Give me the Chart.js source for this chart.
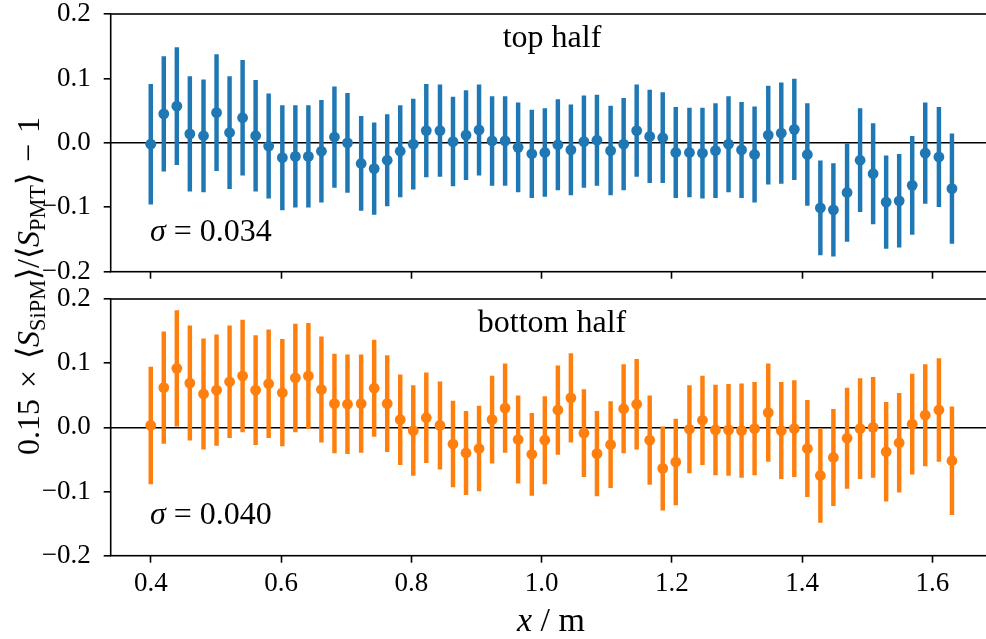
<!DOCTYPE html>
<html>
<head>
<meta charset="utf-8">
<script src="https://cdn.jsdelivr.net/npm/chart.js@4.4.0/dist/chart.umd.min.js"></script>
<style>
  html, body { margin: 0; padding: 0; background: #fff; }
  #fig { position: relative; width: 986px; height: 639px; overflow: hidden; font-family: "Liberation Serif", serif; color: #000; }
  canvas { position: absolute; left: 0; }
  #cTop { top: 0; }
  #cBottom { top: 285px; }
  .note { position: absolute; white-space: nowrap; line-height: 1; font-size: 32px; }
  .center { transform: translateX(-50%); }
  #xlab { font-size: 34px; }
  #ylab { position: absolute; left: 28px; top: 286px; font-size: 32px; line-height: 1; white-space: nowrap;
          word-spacing: 3px; transform: translate(-50%, -50%) rotate(-90deg); }
  #ylab sub { font-size: 0.7em; vertical-align: -0.25em; line-height: 0; }
</style>
</head>
<body>
<div id="fig">
  <canvas id="cTop" width="1000" height="285"></canvas>
  <canvas id="cBottom" width="1000" height="354"></canvas>
  <div class="note center" style="left:552px; top:20px;">top half</div>
  <div class="note" style="left:150px; top:214px;"><i>σ</i> = 0.034</div>
  <div class="note center" style="left:552px; top:305px;">bottom half</div>
  <div class="note" style="left:150px; top:497px;"><i>σ</i> = 0.040</div>
  <div id="xlab" class="note center" style="left:551px; top:603px;"><i>x</i> / m</div>
  <div id="ylab">0.15 × ⟨<i>S</i><sub>SiPM</sub>⟩/⟨<i>S</i><sub>PMT</sub>⟩ − 1</div>
</div>
<script>
// positions along the bar (m)
var xs = [0.400,0.420,0.440,0.460,0.481,0.501,0.521,0.541,0.561,0.581,
          0.602,0.622,0.642,0.662,0.682,0.702,0.723,0.743,0.763,0.783,
          0.803,0.823,0.844,0.864,0.884,0.904,0.924,0.944,0.964,0.985,
          1.005,1.025,1.045,1.065,1.085,1.106,1.126,1.146,1.166,1.186,
          1.206,1.227,1.247,1.267,1.287,1.307,1.327,1.348,1.368,1.388,
          1.408,1.428,1.448,1.469,1.489,1.509,1.529,1.549,1.569,1.589,
          1.610,1.630];

var topVals = [-0.002,0.045,0.057,0.014,0.011,0.047,0.016,0.039,0.011,-0.005,
               -0.023,-0.021,-0.021,-0.013,0.009,0.000,-0.032,-0.040,-0.027,-0.013,
               -0.002,0.019,0.019,0.002,0.012,0.020,0.003,0.003,-0.007,-0.017,
               -0.015,-0.003,-0.011,0.002,0.004,-0.012,-0.002,0.019,0.010,0.008,
               -0.015,-0.015,-0.016,-0.012,-0.002,-0.011,-0.018,0.012,0.015,0.021,
               -0.018,-0.101,-0.104,-0.077,-0.027,-0.048,-0.092,-0.090,-0.066,-0.016,
               -0.022,-0.071];
var topErrs = [0.093,0.089,0.091,0.089,0.087,0.090,0.087,0.089,0.086,0.081,
               0.081,0.079,0.079,0.079,0.078,0.077,0.073,0.071,0.071,0.071,
               0.070,0.072,0.071,0.069,0.069,0.070,0.069,0.069,0.069,0.068,
               0.068,0.070,0.070,0.071,0.070,0.069,0.071,0.071,0.072,0.070,
               0.070,0.069,0.070,0.073,0.074,0.074,0.074,0.076,0.078,0.078,
               0.079,0.073,0.072,0.076,0.080,0.078,0.072,0.072,0.076,0.078,
               0.077,0.085];

var botVals = [0.003,0.062,0.092,0.069,0.052,0.058,0.071,0.080,0.058,0.068,
               0.054,0.077,0.080,0.059,0.037,0.036,0.037,0.061,0.037,0.012,
               -0.005,0.015,0.003,-0.026,-0.040,-0.033,0.012,0.030,-0.019,-0.042,
               -0.020,0.027,0.046,-0.009,-0.041,-0.027,0.029,0.036,-0.020,-0.064,
               -0.054,-0.003,0.011,-0.004,-0.004,-0.005,-0.002,0.023,-0.005,-0.002,
               -0.033,-0.075,-0.047,-0.017,-0.002,0.000,-0.038,-0.024,0.005,0.019,
               0.027,-0.052];
var botErrs = [0.091,0.087,0.090,0.089,0.086,0.086,0.087,0.087,0.085,0.084,
               0.083,0.084,0.082,0.082,0.077,0.077,0.076,0.075,0.075,0.070,
               0.070,0.070,0.068,0.067,0.065,0.066,0.068,0.069,0.068,0.064,
               0.068,0.069,0.069,0.068,0.066,0.067,0.069,0.070,0.069,0.065,
               0.067,0.068,0.069,0.070,0.071,0.073,0.072,0.076,0.075,0.075,
               0.075,0.073,0.075,0.078,0.078,0.078,0.077,0.077,0.078,0.079,
               0.080,0.084];

var xTicks = [0.4, 0.6, 0.8, 1.0, 1.2, 1.4, 1.6];
var xTickLabels = ["0.4", "0.6", "0.8", "1.0", "1.2", "1.4", "1.6"];
var yTicks = [-0.2, -0.1, 0.0, 0.1, 0.2];
var yTickLabels = ["\u22120.2", "\u22120.1", "0.0", "0.1", "0.2"];

var BLUE = "#1f77b4";
var ORANGE = "#ff7f0e";

// frame around the plot area (matplotlib spines)
var framePlugin = {
  id: "frame",
  afterDraw: function(chart) {
    var a = chart.chartArea, c = chart.ctx;
    c.save();
    c.strokeStyle = "#000";
    c.lineWidth = 1.6;
    c.strokeRect(a.left, a.top, a.right - a.left, a.bottom - a.top);
    c.restore();
  }
};

function makePanel(id, vals, errs, color, showX, xAxisHeight) {
  var bars = [], pts = [];
  for (var i = 0; i < xs.length; i++) {
    bars.push({x: xs[i], y: [vals[i] - errs[i], vals[i] + errs[i]]});
    pts.push({x: xs[i], y: vals[i]});
  }
  var ctx = document.getElementById(id).getContext("2d");
  return new Chart(ctx, {
    type: "bar",
    data: {
      datasets: [
        { type: "bar", data: bars, backgroundColor: color, borderWidth: 0,
          barThickness: 3.8, order: 2 },
        { type: "scatter", data: pts, backgroundColor: color, borderWidth: 0,
          pointRadius: 5.4, pointBorderWidth: 0, showLine: false, order: 1 }
      ]
    },
    options: {
      responsive: false,
      animation: false,
      devicePixelRatio: 1,
      layout: { padding: { top: 14, right: 8, left: 0, bottom: 0 } },
      plugins: { legend: { display: false }, tooltip: { enabled: false } },
      scales: {
        x: {
          type: "linear", min: 0.3385, max: 1.6915, offset: false,
          afterBuildTicks: function(s) { s.ticks = xTicks.map(function(v){ return {value: v}; }); },
          afterFit: function(s) { s.height = xAxisHeight; s.paddingLeft = 0; s.paddingRight = 0; },
          border: { display: false },
          grid: { offset: false, color: "rgba(0,0,0,0)", tickColor: "#000", tickLength: 7, tickWidth: 1.6 },
          ticks: {
            display: showX, padding: 5, color: "#000", maxRotation: 0,
            font: { family: "Liberation Serif", size: 27 },
            callback: function(v) { return xTickLabels[xTicks.indexOf(v)]; }
          }
        },
        y: {
          min: -0.2, max: 0.2,
          afterBuildTicks: function(s) { s.ticks = yTicks.map(function(v){ return {value: v}; }); },
          afterFit: function(s) { s.width = 110.7; s.paddingTop = 0; s.paddingBottom = 0; },
          border: { display: false },
          grid: {
            color: function(c) { return c.tick && c.tick.value === 0 ? "#000" : "rgba(0,0,0,0)"; },
            lineWidth: 1.6, tickColor: "#000", tickLength: 7, tickWidth: 1.6
          },
          ticks: {
            padding: 13, color: "#000",
            font: { family: "Liberation Serif", size: 27 },
            callback: function(v) { return yTickLabels[yTicks.indexOf(v)]; }
          }
        }
      }
    },
    plugins: [framePlugin]
  });
}

makePanel("cTop", topVals, topErrs, BLUE, false, 13.3);
makePanel("cBottom", botVals, botErrs, ORANGE, true, 83.3);
</script>
</body>
</html>
